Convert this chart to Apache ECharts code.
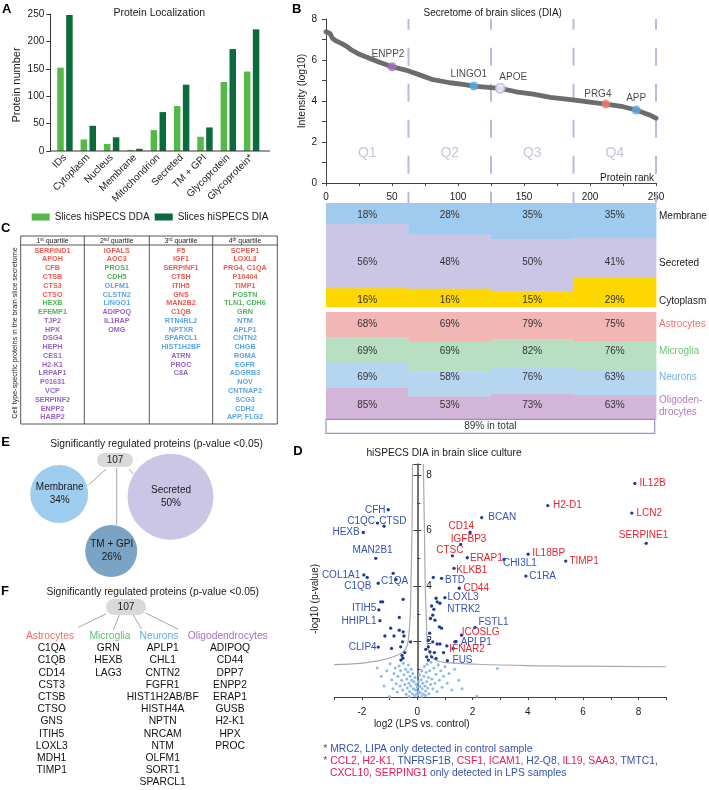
<!DOCTYPE html>
<html>
<head>
<meta charset="utf-8">
<script src="https://cdn.jsdelivr.net/npm/echarts@6.0.0/dist/echarts.min.js"></script>
<style>html,body{margin:0;padding:0;background:#fff;}#chart{width:709px;height:790px;}</style>
</head>
<body>
<div id="chart"></div>
<script>
const FONT = '"Liberation Sans", Arial, Helvetica, sans-serif';

/* ---------------- Panel A data ---------------- */
const locCategories = ['IDs','Cytoplasm','Nucleus','Membrane','Mitochondrion','Secreted','TM + GPI','Glycoprotein','Glycoprotein*'];
const ddaCounts = [152,21,13,2,38,82,26,126,145];
const diaCounts = [248,46,25,4,71,121,43,186,222];
const aYTicks = [0,50,100,150,200,250];

/* ---------------- Panel B data ---------------- */
const rankIntensity = [[0,7.38],[3,7.3],[5,7.05],[8,6.92],[12,6.8],[16,6.65],[19,6.5],[24,6.32],[30,6.16],[40,5.9],[50,5.67],[62,5.48],[72,5.25],[81,5.04],[94,4.89],[105,4.8],[112,4.73],[125,4.65],[132,4.62],[144,4.45],[157,4.33],[170,4.18],[187,4.05],[200,3.95],[212,3.85],[225,3.72],[235,3.56],[245,3.32],[250,3.16]];
const markedNames = ['ENPP2','LINGO1','APOE','PRG4','APP'];
const markedRanks = [50,112,132,212,235];
const markedIntensity = [5.67,4.73,4.62,3.85,3.56];
const bXLabels = [0,50,100,150,200,250];
const bYLabels = [0,2,4,6,8];
const quartileEdges = [0,62.5,125,187.5,250];
const quartileNames = ['Q1','Q2','Q3','Q4'];
const locRows = ['Membrane','Secreted','Cytoplasm'];
const membranePct = [18,28,35,35];
const secretedPct = [56,48,50,41];
const cytoplasmPct = [16,16,15,29];
const cellRows = ['Astrocytes','Microglia','Neurons','Oligoden-\ndrocytes'];
const astroPct = [68,69,79,75];
const microPct = [69,69,82,76];
const neuronPct = [69,58,76,63];
const oligoPct = [85,53,73,63];
const totalLabel = '89% in total';

/* ---------------- Panel C data ---------------- */
const quartileHeaders = [['1','st'],['2','nd'],['3','rd'],['4','th']];
const q1Proteins = [['SERPIND1','A'],['APOH','A'],['CFB','A'],['CTSB','A'],['CTS3','A'],['CTSO','A'],['HEXB','M'],['EFEMP1','M'],['TJP2','O'],['HPX','O'],['DSG4','O'],['HEPH','O'],['CES1','O'],['H2-K1','O'],['LRPAP1','O'],['P01631','O'],['VCP','O'],['SERPINF2','O'],['ENPP2','O'],['HABP2','O']];
const q2Proteins = [['IGFALS','A'],['AOC3','A'],['PROS1','M'],['CDH5','M'],['OLFM1','N'],['CLSTN2','N'],['LINGO1','N'],['ADIPOQ','O'],['IL1RAP','O'],['OMG','O']];
const q3Proteins = [['F5','A'],['IGF1','A'],['SERPINF1','A'],['CTSH','A'],['ITIH5','A'],['GNS','A'],['MAN2B2','A'],['C1QB','A'],['RTN4RL2','N'],['NPTXR','N'],['SPARCL1','N'],['HIST1H2BF','N'],['ATRN','O'],['PROC','O'],['C8A','O']];
const q4Proteins = [['SCPEP1','A'],['LOXL3','A'],['PRG4, C1QA','A'],['P10404','A'],['TIMP1','A'],['POSTN','M'],['TLN1, CDH6','M'],['GRN','M'],['NTM','N'],['APLP1','N'],['CNTN2','N'],['CHGB','N'],['RGMA','N'],['EGFR','N'],['ADGRB3','N'],['NOV','N'],['CNTNAP2','N'],['SCG3','N'],['CDH2','N'],['APP, FLG2','N']];

/* ---------------- Panel D data ---------------- */
const volcanoNames = ['IL12B','H2-D1','LCN2','SERPINE1','BCAN','CD14','IGFBP3','CTSC','ERAP1','IL18BP','TIMP1','CHI3L1','C1RA','KLKB1','BTD','CD44','LOXL3','NTRK2','FSTL1','ICOSLG','APLP1','IFNAR2','FUS','CTSD','C1QC','CFH','HEXB','MAN2B1','COL1A1','C1QB','C1QA','ITIH5','HHIPL1','CLIP4'];
const volcanoLog2FC = [7.87,4.72,7.76,8.28,2.33,1.91,1.57,1.27,1.81,4.01,5.37,3.14,3.93,1.33,0.88,1.52,1.0,0.82,2.09,1.6,1.36,1.07,1.09,-1.2,-1.44,-1.05,-1.95,-1.5,-1.93,-1.81,-1.41,-1.39,-1.35,-1.41];
const volcanoNegLogP = [7.7,6.9,6.63,5.54,6.47,5.93,5.5,5.09,5.02,5.15,4.9,4.96,4.36,4.64,4.28,3.92,3.58,3.38,2.51,2.23,1.99,1.84,1.31,6.16,6.27,6.75,5.93,5.0,4.4,4.31,4.1,3.14,2.75,1.8];
const volcanoGroup = ['up','up','up','up','other','up','up','up','up','up','up','other','other','up','other','up','other','other','other','up','other','up','other','other','other','other','other','other','other','other','other','other','other','other'];
const sigPoints = [[-0.87,4.46],[-0.77,4.24],[-0.51,3.52],[-1.32,3.43],[-1.25,3.43],[-0.65,2.87],[-0.96,2.48],[-0.65,2.41],[-0.51,2.35],[-1.17,2.2],[-0.84,2.2],[-0.48,2.2],[-0.53,1.99],[-0.24,1.99],[-0.93,1.75],[-0.6,1.81],[-0.55,1.5],[-0.52,1.4],[-0.59,1.33],[-0.45,1.6],[0.58,4.31],[0.68,3.56],[0.72,3.43],[0.52,3.28],[0.6,3.16],[0.56,2.95],[0.48,2.83],[0.8,2.53],[0.88,2.48],[0.4,2.05],[0.56,1.99],[0.72,1.91],[0.82,1.91],[0.4,1.81],[0.46,1.63],[0.34,1.45],[0.52,1.45],[0.68,1.39],[0.4,1.33],[0.31,1.72],[0.64,2.77],[0.45,2.3],[0.62,1.6],[1.3,1.75],[1.4,2.0],[0.95,1.6]];
const nsPoints = [[-1.45,1.05],[-1.3,0.75],[-1.2,0.4],[-1.1,0.95],[-1.0,0.02],[-0.98,1.2],[-0.92,0.62],[-0.88,0.3],[-0.84,0.85],[-0.8,1.05],[-0.76,0.48],[-0.72,0.18],[-0.7,0.75],[-0.66,1.12],[-0.62,0.4],[-0.6,0.95],[-0.56,0.6],[-0.53,0.25],[-0.5,1.22],[-0.48,0.8],[-0.45,0.45],[-0.42,1.0],[-0.4,0.1],[-0.38,0.65],[-0.36,0.32],[-0.34,0.9],[-0.32,1.15],[-0.3,0.5],[-0.28,0.2],[-0.26,0.75],[-0.24,0.4],[-0.22,1.0],[-0.2,0.6],[-0.18,0.12],[-0.16,0.85],[-0.14,0.3],[-0.12,0.55],[-0.1,0.05],[-0.08,0.7],[-0.06,0.25],[-0.04,0.45],[-0.02,0.12],[0,0.35],[0.02,0.08],[0.04,0.55],[0.06,0.2],[0.08,0.8],[0.1,0.38],[0.12,0.15],[0.14,0.62],[0.16,0.95],[0.18,0.3],[0.2,0.5],[0.22,0.1],[0.24,0.75],[0.26,1.1],[0.28,0.4],[0.3,0.22],[0.32,0.88],[0.34,0.55],[0.36,1.18],[0.38,0.32],[0.4,0.7],[0.42,0.12],[0.45,0.95],[0.48,0.45],[0.5,1.25],[0.53,0.65],[0.56,0.3],[0.6,1.05],[0.64,0.5],[0.68,0.82],[0.72,0.2],[0.76,1.15],[0.8,0.6],[0.85,0.95],[0.9,0.35],[0.95,0.75],[1.0,1.1],[1.08,0.5],[1.15,0.85],[1.25,0.25],[1.35,1.0],[1.5,0.6],[1.62,0.3],[2.15,0.03],[2.9,1.03],[-0.3,0.02],[0.15,0.02],[0.3,0.05]];
const thresholdRight = [[0.22,8.4],[0.26,6],[0.29,4],[0.32,3],[0.35,2.2],[0.4,1.75],[0.52,1.45],[0.75,1.3],[1.06,1.24],[2.15,1.18],[4,1.13],[6,1.11],[9,1.09]];
const thresholdLeft = [[-0.17,8.4],[-0.19,6],[-0.23,4],[-0.26,2.8],[-0.32,2.1],[-0.38,1.8],[-0.55,1.6],[-0.87,1.45],[-1.3,1.33],[-2.07,1.21],[-3,1.17]];
const dXLabels = [-2,0,2,4,6,8];
const dYLabels = [2,4,6,8];

/* ---------------- Panel E / F data ---------------- */
const regulatedTotal = 107;
const eGroupNames = ['Membrane','Secreted','TM + GPI'];
const eGroupPct = [34,50,26];
const fAstrocytes = ['C1QA','C1QB','CD14','CST3','CTSB','CTSO','GNS','ITIH5','LOXL3','MDH1','TIMP1'];
const fMicroglia = ['GRN','HEXB','LAG3'];
const fNeurons = ['APLP1','CHL1','CNTN2','FGFR1','HIST1H2AB/BF','HISTH4A','NPTN','NRCAM','NTM','OLFM1','SORT1','SPARCL1'];
const fOligo = ['ADIPOQ','CD44','DPP7','ENPP2','ERAP1','GUSB','H2-K1','HPX','PROC'];

/* ================= styles / layout ================= */
const TXT = '#1a1a1a';
const RED = '#e3252d', BLUE = '#3552b3', FOOT_RED = '#e5195b';
const cellTypeColor = {A:'#ee5a4f', M:'#4fb55a', N:'#58a6e8', O:'#9a62c4'};
const markedStyle = {
  ENPP2:{color:'#a46fc2'}, LINGO1:{color:'#5aa8e4'},
  APOE:{color:'#ffffff', borderColor:'#bab3df', borderWidth:2}, PRG4:{color:'#ee7b6f'}, APP:{color:'#5aa8e4'}
};
const markedLabelOffset = {ENPP2:[-4,2], LINGO1:[-5,2.5], APOE:[13,4], PRG4:[-8,5], APP:[0,3]};
const locColors = ['#9ecbee','#cbc6e6','#fed700'];
const cellColors = ['#f2b7b5','#b8dfc1','#b5d5f0','#d2b5d9'];
const cellLabelColors = ['#f0736b','#6cc46f','#6bb2ec','#b07cc6'];
const volcanoLabelLayout = {
  IL12B:['right',3,0],'H2-D1':['right',3.5,0],LCN2:['right',3,0],SERPINE1:['right',-29,-8.3],
  IL18BP:['right',2.5,-0.7],TIMP1:['right',2,0],CHI3L1:['right',-2.8,4],C1RA:['right',1.8,0],
  ERAP1:['right',1,0],CTSC:['right',-17.8,-5.7],IGFBP3:['right',-11.5,-5.3],CD14:['right',-23.2,-6.6],
  BCAN:['right',5,0],KLKB1:['right',0.5,1.7],BTD:['right',1.8,2.4],CD44:['right',2.5,0],
  LOXL3:['right',1,0],NTRK2:['right',5.8,6],FSTL1:['right',1.8,-5],ICOSLG:['right',-1.5,-2.7],
  APLP1:['right',4.2,0],IFNAR2:['right',0.8,3.3],FUS:['right',3.5,0],
  CTSD:['right',-6.5,-5.3],C1QC:['left',-0.7,-2.3],CFH:['left',-1,0],HEXB:['left',-2,0],
  MAN2B1:['left',18.5,-7.6],COL1A1:['left',-2,0],C1QB:['left',5.9,8.7],C1QA:['right',1,-1.6],
  ITIH5:['left',-0.8,-1.7],HHIPL1:['left',-1.8,1],CLIP4:['left',0,0]
};

/* ---- band geometry (grid units = px offsets from the top of panel B) ---- */
const LOC_TOP = 184, LOC_BOTTOM = 287.7, CELL_TOP = 293, CELL_BOTTOM = 400.3, TOTAL_BOTTOM = 414.3;
const locTextY = [196, 243, 281];
const cellTextY = [305, 332.7, 358.7, 386.5];
const bandCells = [];
function buildStack(pctRows, colors, top, bottom, textYs) {
  for (let q = 0; q < 4; q++) {
    let sum = 0; pctRows.forEach(r => { sum += r[q]; });
    let y = top;
    pctRows.forEach((r, i) => {
      const h = r[q] / sum * (bottom - top);
      bandCells.push({x0: quartileEdges[q], x1: quartileEdges[q + 1], y0: y, y1: y + h, ty: textYs[i], pct: r[q], color: colors[i]});
      y += h;
    });
  }
}
buildStack([membranePct, secretedPct, cytoplasmPct], locColors, LOC_TOP, LOC_BOTTOM, locTextY);
buildStack([astroPct, microPct, neuronPct, oligoPct], cellColors, CELL_TOP, CELL_BOTTOM, cellTextY);
const rowLabelItems = locRows.map((r, i) => ({text: r, y: locTextY[i] + 1, color: TXT}))
  .concat(cellRows.map((r, i) => ({text: r, y: cellTextY[i] + (i === 3 ? 0.5 : 0), color: cellLabelColors[i]})));

/* ================= graphic elements ================= */
const G = [];
function txt(x, y, text, opt) {
  opt = opt || {};
  G.push({type: 'text', x: x, y: y, rotation: opt.rotation || 0, z: 100,
    style: {text: text, fill: opt.color || TXT, fontSize: opt.size || 10, fontFamily: FONT,
      fontWeight: opt.weight || 'normal', align: opt.align || 'center', verticalAlign: 'middle',
      textAlign: opt.align || 'center', textVerticalAlign: 'middle', rich: opt.rich}});
}
function line(x1, y1, x2, y2, color, w) {
  G.push({type: 'line', z: 90, shape: {x1, y1, x2, y2}, style: {stroke: color, lineWidth: w || 1}});
}
// panel letters
txt(6.7, 9, 'A', {size: 13, weight: 'bold', color: '#000'});
txt(296.7, 9, 'B', {size: 13, weight: 'bold', color: '#000'});
txt(5.8, 228.5, 'C', {size: 13, weight: 'bold', color: '#000'});
txt(298, 451, 'D', {size: 13, weight: 'bold', color: '#000'});
txt(5.5, 442, 'E', {size: 13, weight: 'bold', color: '#000'});
txt(5, 591.5, 'F', {size: 13, weight: 'bold', color: '#000'});
// panel A texts
txt(159.3, 12.7, 'Protein Localization', {size: 10.5});
txt(17.3, 85, 'Protein number', {size: 11, rotation: Math.PI / 2});
line(50, 151, 270, 151, '#333', 1);
// panel B texts
txt(492.7, 13, 'Secretome of brain slices (DIA)', {size: 10});
txt(301.7, 91, 'Intensity (log10)', {size: 10.5, rotation: Math.PI / 2});
txt(654, 178, 'Protein rank', {size: 10, align: 'right'});
// panel C table
const tX = [20.7, 84.3, 149.3, 212.7, 277.3];
G.push({type: 'rect', z: 90, shape: {x: 20.7, y: 236, width: 256.6, height: 188}, style: {fill: 'none', stroke: '#444', lineWidth: 0.9}});
line(20.7, 245, 277.3, 245, '#444', 0.9);
[1, 2, 3].forEach(i => line(tX[i], 236, tX[i], 424, '#444', 0.9));
const tableCols = [q1Proteins, q2Proteins, q3Proteins, q4Proteins];
quartileHeaders.forEach((h, i) => {
  txt((tX[i] + tX[i + 1]) / 2, 240.8, '{a|' + h[0] + '}{s|' + h[1] + '}{a| quartile}', {
    rich: {a: {fontSize: 7, fontFamily: FONT, fill: '#222', color: '#222'},
           s: {fontSize: 4.5, fontFamily: FONT, fill: '#222', color: '#222', verticalAlign: 'top', padding: [0, 0, 3, 0]}}});
  tableCols[i].forEach((p, j) => {
    txt((tX[i] + tX[i + 1]) / 2, 250.7 + j * 8.77, p[0], {size: 7.2, weight: 'bold', color: cellTypeColor[p[1]]});
  });
});
txt(15, 333, 'Cell type-specific proteins in the brain slice secretome', {size: 7.2, rotation: Math.PI / 2, color: '#222'});
// panel E
txt(156.5, 444, 'Significantly regulated proteins (p-value <0.05)', {size: 10.3});
line(106, 469.3, 88.3, 485, '#a8a8a8', 1);
line(116.7, 468, 116.7, 525, '#a8a8a8', 1);
line(129.3, 469.3, 133.3, 474, '#a8a8a8', 1);
G.push({type: 'rect', z: 95, shape: {x: 97, y: 453, width: 36, height: 14, r: 7}, style: {fill: '#d9d9d9'}});
txt(115, 460.5, String(regulatedTotal), {size: 10});
const eCircles = [[59.2, 494, 29, '#9fcdf0'], [170.5, 496.7, 43, '#cbc6e6'], [111.2, 551, 26, '#7ba3c3']];
eGroupNames.forEach((n, i) => {
  const c = eCircles[i];
  G.push({type: 'circle', z: 92, shape: {cx: c[0], cy: c[1], r: c[2]}, style: {fill: c[3]}});
  txt(c[0] + 0.5, c[1] - 6.5, n, {size: 10});
  txt(c[0] + 0.5, c[1] + 6.2, eGroupPct[i] + '%', {size: 10});
});
// panel F
txt(152.7, 591.7, 'Significantly regulated proteins (p-value <0.05)', {size: 10.3});
line(106, 614, 78.3, 627.3, '#a8a8a8', 1);
line(119.3, 615, 113.3, 630, '#a8a8a8', 1);
line(133.3, 615, 141.7, 629.3, '#a8a8a8', 1);
line(145.7, 613, 178.3, 629.3, '#a8a8a8', 1);
G.push({type: 'rect', z: 95, shape: {x: 106, y: 599, width: 40, height: 16, r: 8}, style: {fill: '#d9d9d9'}});
txt(126, 607.5, String(regulatedTotal), {size: 10.3});
const fCols = [['Astrocytes', fAstrocytes, 50, 51.7, '#f26d63'], ['Microglia', fMicroglia, 110, 108.3, '#5ec469'],
  ['Neurons', fNeurons, 159, 162.7, '#5cb0f0'], ['Oligodendrocytes', fOligo, 227.7, 230, '#a571cc']];
fCols.forEach(c => {
  txt(c[2], 636, c[0], {size: 10.3, color: c[4]});
  c[1].forEach((p, j) => txt(c[3], 648.3 + j * 12.2, p, {size: 10.3, color: '#111'}));
});
// panel D texts
const FN = 10.35;
txt(444, 453.3, 'hiSPECS DIA in brain slice culture', {size: 10.2});
txt(315, 599, '-log10 (p-value)', {size: 10, rotation: Math.PI / 2});
txt(421.7, 724.3, 'log2 (LPS vs. control)', {size: 10});
txt(323.3, 749.3, '{b|* MRC2, LIPA only detected in control sample}', {align: 'left',
  rich: {b: {fontSize: FN, fontFamily: FONT, color: BLUE, fill: BLUE}}});
txt(323.3, 761, '{r|* CCL2, H2-K1, }{b|TNFRSF1B, }{r|CSF1, ICAM1, }{b|H2-Q8, }{r|IL19, SAA3, }{b|TMTC1,}', {align: 'left',
  rich: {b: {fontSize: FN, fontFamily: FONT, color: BLUE, fill: BLUE}, r: {fontSize: FN, fontFamily: FONT, color: FOOT_RED, fill: FOOT_RED}}});
txt(330, 772.7, '{r|CXCL10, SERPING1 }{b|only detected in LPS samples}', {align: 'left',
  rich: {b: {fontSize: FN, fontFamily: FONT, color: BLUE, fill: BLUE}, r: {fontSize: FN, fontFamily: FONT, color: FOOT_RED, fill: FOOT_RED}}});

/* ================= option ================= */
const axisTxt = {fontSize: 10, color: TXT, fontFamily: FONT};
const option = {
  animation: false,
  backgroundColor: '#ffffff',
  textStyle: {fontFamily: FONT},
  grid: [
    {left: 53.3, top: 14, width: 210, height: 137, containLabel: false, outerBoundsMode: 'none'},
    {left: 326, top: 19, width: 330, height: 164, containLabel: false, outerBoundsMode: 'none'},
    {left: 326, top: 19, width: 330, height: 414, containLabel: false, outerBoundsMode: 'none'},
    {left: 334.3, top: 464, width: 331.8, height: 233, containLabel: false, outerBoundsMode: 'none'}
  ],
  xAxis: [
    {type: 'category', gridIndex: 0, data: locCategories, axisLine: {show: false}, axisTick: {show: false},
      axisLabel: Object.assign({rotate: 45, interval: 0, margin: 5}, axisTxt)},
    {type: 'value', gridIndex: 1, min: 0, max: 250, interval: 25, splitLine: {show: false},
      axisLine: {show: true, onZero: false, lineStyle: {color: '#444', width: 1}},
      axisTick: {show: true, length: 3, lineStyle: {color: '#444'}},
      axisLabel: Object.assign({margin: 9, showMinLabel: true, showMaxLabel: true, formatter: v => bXLabels.indexOf(v) >= 0 ? String(v) : ''}, axisTxt)},
    {type: 'value', gridIndex: 2, min: 0, max: 250, show: false},
    {type: 'value', gridIndex: 3, min: -3, max: 9, interval: 1, splitLine: {show: false},
      axisLine: {show: true, onZero: false, lineStyle: {color: '#444', width: 1.2}},
      axisTick: {show: true, length: 3, lineStyle: {color: '#444'}},
      axisLabel: Object.assign({margin: 10, showMinLabel: true, showMaxLabel: true, formatter: v => dXLabels.indexOf(v) >= 0 ? String(v) : ''}, axisTxt)}
  ],
  yAxis: [
    {type: 'value', gridIndex: 0, min: 0, max: 250, interval: 50, offset: 3, splitLine: {show: false},
      axisLine: {show: true, lineStyle: {color: '#333', width: 1}}, axisTick: {show: true, length: 4, lineStyle: {color: '#333'}},
      axisLabel: Object.assign({margin: 6, formatter: v => aYTicks.indexOf(v) >= 0 ? String(v) : ''}, axisTxt)},
    {type: 'value', gridIndex: 1, min: 0, max: 8, interval: 1, splitLine: {show: false},
      axisLine: {show: true, onZero: false, lineStyle: {color: '#444', width: 1}}, axisTick: {show: true, length: 4, lineStyle: {color: '#444'}},
      axisLabel: Object.assign({margin: 9, formatter: v => bYLabels.indexOf(v) >= 0 ? String(v) : ''}, axisTxt)},
    {type: 'value', gridIndex: 2, min: 0, max: 414, inverse: true, show: false},
    {type: 'value', gridIndex: 3, position: 'left', min: 0, max: 8.4, interval: 2, offset: -83, splitLine: {show: false},
      axisLine: {show: true, onZero: false, lineStyle: {color: '#444', width: 1.5}},
      axisTick: {show: true, inside: true, length: 4, lineStyle: {color: '#444'}},
      minorTick: {show: true, splitNumber: 2, length: 3, lineStyle: {color: '#444'}}, minorSplitLine: {show: false},
      axisLabel: Object.assign({inside: true, margin: 9, showMaxLabel: false, formatter: v => dYLabels.indexOf(v) >= 0 ? String(v) : ''}, axisTxt)},
    {type: 'value', gridIndex: 3, position: 'left', min: 0, max: 8.4, interval: 2, offset: -83, splitLine: {show: false},
      axisLine: {show: false, onZero: false}, axisTick: {show: true, length: 4, lineStyle: {color: '#444'}},
      axisLabel: {show: false}}
  ],
  legend: {left: 31.7, top: 212, padding: 0, itemWidth: 18, itemHeight: 7, itemGap: 5, icon: 'rect',
    data: ['Slices hiSPECS DDA', 'Slices hiSPECS DIA'], textStyle: {fontSize: 10, color: TXT, fontFamily: FONT}},
  series: [
    {name: 'Slices hiSPECS DDA', type: 'bar', xAxisIndex: 0, yAxisIndex: 0, data: ddaCounts, barWidth: 6.5, barGap: '37%',
      itemStyle: {color: '#55b947'}},
    {name: 'Slices hiSPECS DIA', type: 'bar', xAxisIndex: 0, yAxisIndex: 0, data: diaCounts, barWidth: 6.5, barGap: '37%',
      itemStyle: {color: '#0b6b3d'}},
    {type: 'line', xAxisIndex: 1, yAxisIndex: 1, data: rankIntensity, showSymbol: false, symbol: 'none', z: 3,
      lineStyle: {color: '#6c6c6c', width: 4.8, cap: 'round', join: 'round'}},
    {type: 'scatter', xAxisIndex: 1, yAxisIndex: 1, z: 4, symbolSize: 9,
      data: markedNames.map((n, i) => ({value: [markedRanks[i], markedIntensity[i]], name: n, itemStyle: markedStyle[n],
        label: {show: true, position: 'top', distance: 5, offset: markedLabelOffset[n], formatter: n, fontSize: 10, color: TXT, fontFamily: FONT}}))},
    {type: 'custom', xAxisIndex: 2, yAxisIndex: 2, z: 1, clip: false,
      data: quartileEdges.slice(1),
      renderItem: function (params, api) {
        const a = api.coord([api.value(0), 0]);
        const b = api.coord([api.value(0), LOC_TOP]);
        return {type: 'line', shape: {x1: a[0], y1: a[1], x2: b[0], y2: b[1]},
          style: {stroke: '#bdb8dd', lineWidth: 2, lineDash: [18, 18], lineDashOffset: 7.3}};
      }},
    {type: 'custom', xAxisIndex: 2, yAxisIndex: 2, z: 2, clip: false,
      data: quartileNames.map((n, i) => (quartileEdges[i] + quartileEdges[i + 1]) / 2),
      renderItem: function (params, api) {
        const p = api.coord([api.value(0), 134]);
        return {type: 'text', style: {text: quartileNames[params.dataIndex], x: p[0], y: p[1], fill: '#c8c2e6',
          fontSize: 14, fontFamily: FONT, align: 'center', verticalAlign: 'middle', textAlign: 'center', textVerticalAlign: 'middle'}};
      }},
    {type: 'custom', xAxisIndex: 2, yAxisIndex: 2, z: 5, clip: false,
      data: bandCells.map(c => [c.x0, c.x1, c.y0, c.y1]),
      encode: {x: [0, 1], y: [2, 3]},
      renderItem: function (params, api) {
        const c = bandCells[params.dataIndex];
        const p0 = api.coord([c.x0, c.y0]);
        const p1 = api.coord([c.x1, c.y1]);
        const tp = api.coord([(c.x0 + c.x1) / 2, c.ty]);
        return {type: 'group', children: [
          {type: 'rect', shape: {x: p0[0], y: p0[1], width: p1[0] - p0[0] + 0.4, height: p1[1] - p0[1] + 0.4}, style: {fill: c.color}},
          {type: 'text', z2: 10, style: {text: c.pct + '%', x: tp[0], y: tp[1], fill: '#333', fontSize: 10, fontFamily: FONT,
            align: 'center', verticalAlign: 'middle', textAlign: 'center', textVerticalAlign: 'middle'}}
        ]};
      }},
    {type: 'custom', xAxisIndex: 2, yAxisIndex: 2, z: 6, clip: false,
      data: [[0, CELL_BOTTOM, 249, TOTAL_BOTTOM]],
      renderItem: function (params, api) {
        const p0 = api.coord([api.value(0), api.value(1)]);
        const p1 = api.coord([api.value(2), api.value(3)]);
        return {type: 'group', children: [
          {type: 'rect', shape: {x: p0[0], y: p0[1], width: p1[0] - p0[0], height: p1[1] - p0[1]},
            style: {fill: '#fff', stroke: '#9c8fc8', lineWidth: 1.2}},
          {type: 'text', style: {text: totalLabel, x: (p0[0] + p1[0]) / 2, y: (p0[1] + p1[1]) / 2, fill: '#333', fontSize: 10,
            fontFamily: FONT, align: 'center', verticalAlign: 'middle', textAlign: 'center', textVerticalAlign: 'middle'}}
        ]};
      }},
    {type: 'custom', xAxisIndex: 2, yAxisIndex: 2, z: 6, clip: false,
      data: rowLabelItems.map(r => [250, r.y]),
      renderItem: function (params, api) {
        const r = rowLabelItems[params.dataIndex];
        const p = api.coord([api.value(0), api.value(1)]);
        return {type: 'text', style: {text: r.text, x: p[0] + 3, y: p[1], fill: r.color, fontSize: 10, fontFamily: FONT,
          lineHeight: 11.7, align: 'left', verticalAlign: 'middle', textAlign: 'left', textVerticalAlign: 'middle'}};
      }},
    {type: 'line', xAxisIndex: 3, yAxisIndex: 3, data: thresholdRight, smooth: 0.4, symbol: 'none', z: 1,
      lineStyle: {color: '#a9a9a9', width: 1.2}},
    {type: 'line', xAxisIndex: 3, yAxisIndex: 3, data: thresholdLeft, smooth: 0.4, symbol: 'none', z: 1,
      lineStyle: {color: '#a9a9a9', width: 1.2}},
    {type: 'scatter', xAxisIndex: 3, yAxisIndex: 3, data: nsPoints, symbolSize: 3, z: 2,
      itemStyle: {color: '#8dbce9', opacity: 1}},
    {type: 'scatter', xAxisIndex: 3, yAxisIndex: 3, data: sigPoints, symbolSize: 3.3, z: 3,
      itemStyle: {color: '#1c3c94', opacity: 1}},
    {type: 'scatter', xAxisIndex: 3, yAxisIndex: 3, symbolSize: 3.3, z: 4,
      itemStyle: {color: '#1c3c94', opacity: 1},
      data: volcanoNames.map((n, i) => {
        const L = volcanoLabelLayout[n] || ['right', 2, 0];
        const col = volcanoGroup[i] === 'up' ? RED : BLUE;
        return {value: [volcanoLog2FC[i], volcanoNegLogP[i]], name: n,
          label: {show: true, position: L[0], distance: 0, offset: [L[1], L[2]], formatter: n, color: col, fontSize: 10, fontFamily: FONT}};
      })}
  ],
  graphic: {elements: G}
};
const chart = echarts.init(document.getElementById('chart'), null, {renderer: 'canvas', width: 709, height: 790});
chart.setOption(option);
</script>
</body>
</html>
